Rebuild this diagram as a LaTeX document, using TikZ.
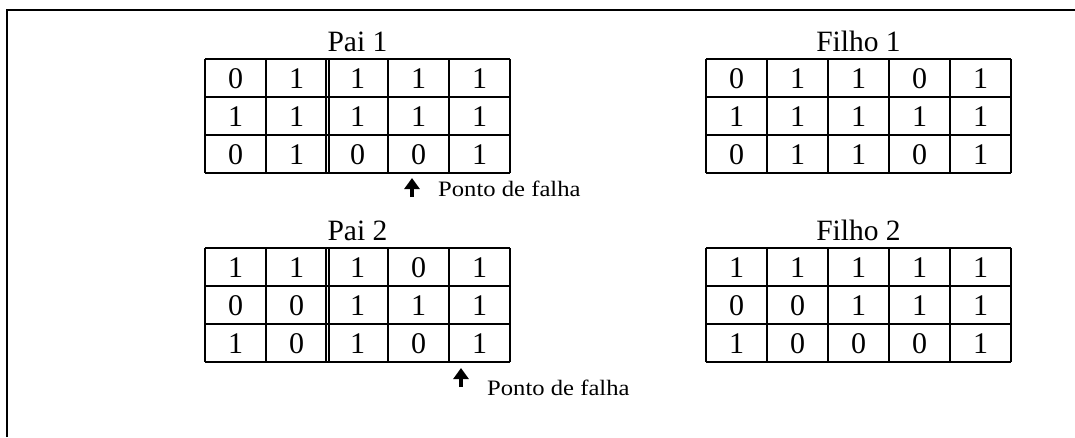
\documentclass[tikz,border=0pt]{standalone}
\usepackage{fontspec}
\setmainfont{Liberation Serif}
\newfontfamily\notefont[FakeStretch=1.12]{Liberation Serif}
\usetikzlibrary{arrows.meta}

% One 3x5 grid of bits: #1 name, #2 left, #3 top, #4 rows, #5 draw the double cut line (1/0)
\newcommand\bitgrid[5]{%
  \begin{scope}[shift={(#2,#3)}]
    \foreach \k in {0,1,2,3} \draw[gridline] (0,\k*38) -- (305,\k*38);
    \foreach \k in {0,1,4,5} \draw[gridline] (\k*61,0) -- (\k*61,114);
    \ifnum#5=1
      \draw[cutline] (121,0) -- (121,114);
      \draw[cutline] (124,0) -- (124,114);
      \draw[gridline] (183,0) -- (183,114);
    \else
      \draw[gridline] (122,0) -- (122,114);
      \draw[gridline] (183,0) -- (183,114);
    \fi
    \foreach \row [count=\r from 0] in {#4} {
      \foreach \v [count=\c from 0] in \row {
        \node[digit] (#1-\r-\c) at (\c*61+30.5, \r*38+29) {\v};
      }
    }
  \end{scope}}

\begin{document}
\begin{tikzpicture}[x=1pt,y=-1pt,
  gridline/.style={line width=2.5pt},
  cutline/.style={line width=1.4pt},
  title/.style={anchor=base,inner sep=0pt,font=\fontsize{29.5}{32}\selectfont},
  digit/.style={anchor=base,inner sep=0pt,font=\fontsize{30}{32}\selectfont},
  note/.style={anchor=base west,inner sep=0pt,font=\notefont\fontsize{22}{24}\selectfont},
  marker/.style={-{Triangle[width=15pt,length=11pt]},line width=3.6pt}]
\useasboundingbox (0,0) rectangle (1075,437);

% open frame: top and left edges only
\draw[line width=2.2pt] (7,437) -- (7,10) -- (1075,10);

% parents
\node[title] (pai1) at (357.5,51) {Pai 1};
\bitgrid{p1}{205}{59}{{0,1,1,1,1},{1,1,1,1,1},{0,1,0,0,1}}{1}
\node[title] (pai2) at (357.5,240) {Pai 2};
\bitgrid{p2}{205}{248}{{1,1,1,0,1},{0,0,1,1,1},{1,0,1,0,1}}{1}

% children
\node[title] (filho1) at (858.5,51) {Filho 1};
\bitgrid{f1}{706}{59}{{0,1,1,0,1},{1,1,1,1,1},{0,1,1,0,1}}{0}
\node[title] (filho2) at (858.5,240) {Filho 2};
\bitgrid{f2}{706}{248}{{1,1,1,1,1},{0,0,1,1,1},{1,0,0,0,1}}{0}

% crossover markers
\node[note] (falha1) at (438,196) {Ponto de falha};
\coordinate (m1a) at (412,197);
\coordinate (m1b) at (412,178);
\draw[marker] (m1a) -- (m1b);

\node[note] (falha2) at (487,395) {Ponto de falha};
\coordinate (m2a) at (461,387);
\coordinate (m2b) at (461,368);
\draw[marker] (m2a) -- (m2b);
\end{tikzpicture}
\end{document}
